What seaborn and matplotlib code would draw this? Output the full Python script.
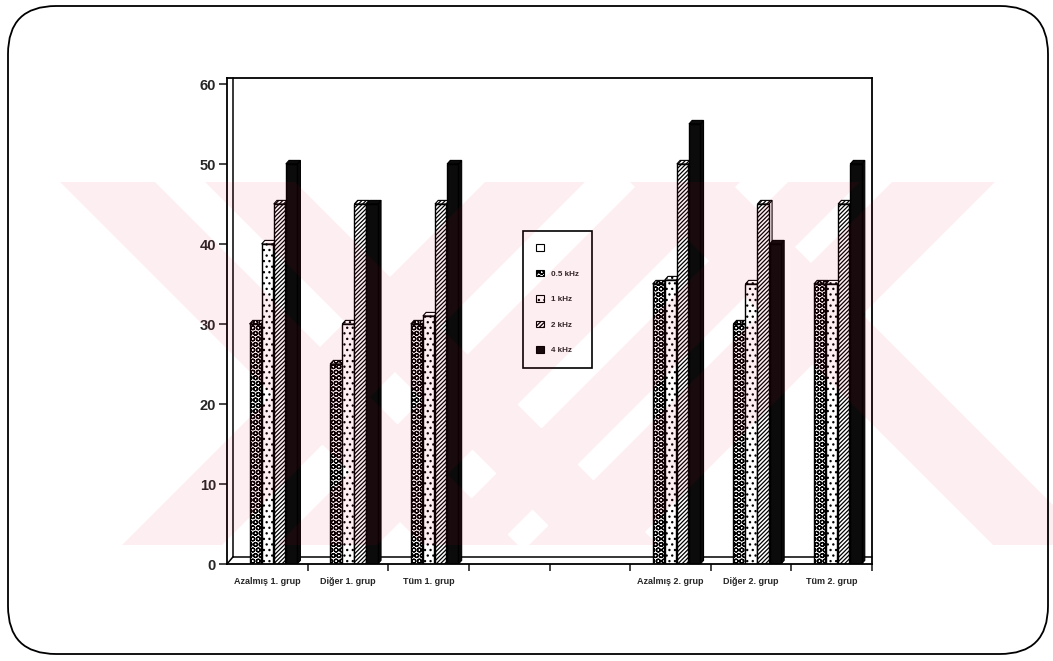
import numpy as np
import pandas as pd
import matplotlib
matplotlib.use("Agg")
import matplotlib.pyplot as plt
import seaborn as sns
from matplotlib.patches import Polygon, Patch, FancyBboxPatch, Rectangle, PathPatch
from matplotlib.path import Path

# --- data -------------------------------------------------------------
gruplar = ["Azalmış 1. grup", "Diğer 1. grup", "Tüm 1. grup",
           "Azalmış 2. grup", "Diğer 2. grup", "Tüm 2. grup"]
eksen_sirasi = ["Azalmış 1. grup", "Diğer 1. grup", "Tüm 1. grup", " ", "  ",
                "Azalmış 2. grup", "Diğer 2. grup", "Tüm 2. grup"]
frekanslar = ["0.5 kHz", "1 kHz", "2 kHz", "4 kHz"]
khz_05 = [30, 25, 30, 35, 30, 35]
khz_1 = [40, 30, 31, 35.5, 35, 35]
khz_2 = [45, 45, 45, 50, 45, 45]
khz_4 = [50, 45, 50, 55, 40, 50]
y_ticks = [0, 10, 20, 30, 40, 50, 60]
legend_labels = ["", "0.5 kHz", "1 kHz", "2 kHz", "4 kHz"]

df = pd.DataFrame({
    "grup": gruplar * 4,
    "frekans": np.repeat(frekanslar, len(gruplar)),
    "esik": khz_05 + khz_1 + khz_2 + khz_4,
})

# --- style ------------------------------------------------------------
sns.set_style("white")
plt.rcParams["font.family"] = ["Liberation Sans", "DejaVu Sans"]
plt.rcParams["font.weight"] = "bold"
plt.rcParams["hatch.linewidth"] = 0.9
plt.rcParams["hatch.color"] = "black"

hue_order = ["bos"] + frekanslar
palette = {"bos": "white", "0.5 kHz": "white", "1 kHz": "white",
           "2 kHz": "white", "4 kHz": "#0b0b0b"}
hatches = ["", "OOO", "...", "////////", ""]

fig = plt.figure(figsize=(10.53, 6.61), dpi=100)
W, H = 1053, 661
ax = fig.add_axes([227 / W, 1 - 564 / H, (872 - 227) / W, 486 / H])
ax.patch.set_visible(False)

dodge_w = 0.75
sns.barplot(data=df, x="grup", y="esik", hue="frekans", order=eksen_sirasi,
            hue_order=hue_order, palette=palette, width=dodge_w, gap=0.06,
            saturation=1, edgecolor="black", linewidth=1.0, errorbar=None,
            legend=False, ax=ax)

# hatch each bar by its hue position and add a shallow 3-D top and side
step = dodge_w / len(hue_order)
dx, dy = 0.04, 0.45
for p in list(ax.patches):
    x0, w, h = p.get_x(), p.get_width(), p.get_height()
    if not np.isfinite(h):
        continue
    c = x0 + w / 2
    idx = int(round((c - round(c)) / step + (len(hue_order) - 1) / 2))
    hatch = hatches[idx]
    fc = p.get_facecolor()
    p.set_hatch(hatch)
    p.set_zorder(2 + idx * 0.1)
    x1 = x0 + w
    z = p.get_zorder() - 0.01
    top = Polygon([(x0, h), (x0 + dx, h + dy), (x1 + dx, h + dy), (x1, h)],
                  closed=True, fc=fc, ec="black", lw=0.8, hatch=hatch, zorder=z)
    side = Polygon([(x1, 0), (x1, h), (x1 + dx, h + dy), (x1 + dx, dy)],
                   closed=True, fc=fc, ec="black", lw=0.8, zorder=z)
    ax.add_patch(side)
    ax.add_patch(top)

# axes frame with a thin floor and back wall
ax.set_xlim(-0.5, 7.5)
ax.set_ylim(0, 60.75)
for s in ax.spines.values():
    s.set_visible(True)
    s.set_color("black")
    s.set_linewidth(1.3)
wx, wy = 0.075, 0.9
ax.plot([-0.5 + wx, -0.5 + wx], [wy, 60.75], color="black", lw=1.1, clip_on=False)
ax.plot([-0.5 + wx, 7.5], [wy, wy], color="black", lw=1.1, clip_on=False)
ax.plot([-0.5, -0.5 + wx], [0, wy], color="black", lw=1.1, clip_on=False)

ax.set_yticks(y_ticks)
ax.set_yticklabels([str(v) for v in y_ticks])
ax.set_xticks(range(len(eksen_sirasi)))
ax.set_xticklabels([g if g.strip() else "" for g in eksen_sirasi])
ax.set_xticks(np.arange(0.5, len(eksen_sirasi), 1.0), minor=True)
ax.tick_params(axis="y", direction="out", length=6, width=1.2, pad=2,
               labelsize=10.5, left=True)
ax.tick_params(axis="x", which="major", length=0, pad=9, labelsize=6.5)
ax.tick_params(axis="x", which="minor", direction="out", length=5, width=1.2,
               bottom=True)
ax.set_xlabel("")
ax.set_ylabel("")

handles = [Patch(facecolor=palette[k], edgecolor="black", linewidth=0.8,
                 hatch=hatches[i]) for i, k in enumerate(hue_order)]
leg = ax.legend(handles, legend_labels, loc="upper left",
                bbox_to_anchor=(519 / W, 1 - 227 / H),
                bbox_transform=fig.transFigure, fontsize=5.8,
                handlelength=0.9, handleheight=0.9, labelspacing=2.15,
                borderpad=1.65, handletextpad=0.9, fancybox=False,
                framealpha=1, edgecolor="black")
leg.get_frame().set_linewidth(1.2)
leg.set_zorder(5)

# --- overlay: faint diagonal watermark and rounded page border --------
ov = fig.add_axes([0, 0, 1, 1], zorder=10)
ov.set_xlim(0, W)
ov.set_ylim(H, 0)
ov.axis("off")
ov.patch.set_visible(False)

yt, yb = 182, 545
hh = yb - yt
verts, codes = [], []
for xt, w in [(60, 95), (205, 90), (630, 100)]:
    verts += [(xt, yt), (xt + w, yt), (xt + w + hh, yb), (xt + hh, yb), (xt, yt)]
    codes += [Path.MOVETO, Path.LINETO, Path.LINETO, Path.LINETO, Path.CLOSEPOLY]
for xt, w in [(485, 100), (640, 100), (788, 72), (892, 103)]:
    verts += [(xt, yt), (xt + w, yt), (xt + w - hh, yb), (xt - hh, yb), (xt, yt)]
    codes += [Path.MOVETO, Path.LINETO, Path.LINETO, Path.LINETO, Path.CLOSEPOLY]
mark = PathPatch(Path(verts, codes), fc=(0.9, 0.05, 0.2), ec="none", alpha=0.065)
ov.add_patch(mark)
clip = Rectangle((60, yt), W - 60, hh, transform=ov.transData)
mark.set_clip_path(clip)

border = FancyBboxPatch((8, 6), 1040, 648, boxstyle="round,pad=0,rounding_size=48",
                        fill=False, ec="black", lw=1.3)
ov.add_patch(border)

fig.savefig("out.png", dpi=100)
